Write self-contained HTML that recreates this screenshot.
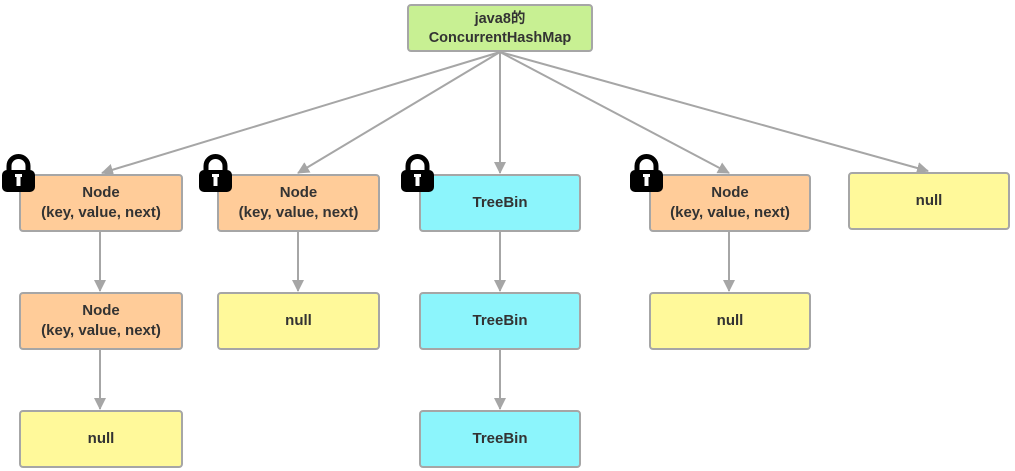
<!DOCTYPE html>
<html><head><meta charset="utf-8"><style>
body{margin:0;width:1015px;height:471px;background:#fff;overflow:hidden;position:relative;font-family:"Liberation Sans","Noto Sans CJK SC",sans-serif}
.b{position:absolute;box-sizing:border-box;border:2px solid #a6a6a6;border-radius:4px;display:flex;align-items:center;justify-content:center;text-align:center;font-size:15px;font-weight:bold;color:#333;line-height:20px}
.o{background:#ffcc99}.y{background:#fff99a}.c{background:#8cf5fc}.g{background:#c8f093}
.t{position:absolute;left:407px;width:186px;text-align:center;font-size:14.5px;font-weight:bold;color:#333;line-height:16px;height:16px}
svg{position:absolute;left:0;top:0}
</style></head><body>
<svg width="1015" height="471">
<defs><marker id="a" markerWidth="12" markerHeight="12" refX="11" refY="6" orient="auto" markerUnits="userSpaceOnUse"><path d="M0,0L12,6L0,12z" fill="#a6a6a6"/></marker>
<g id="lk"><path d="M8,15V10a9.5,9.5 0 0 1 19,0v5" fill="none" stroke="#000" stroke-width="5"/><rect x="1" y="14" width="33" height="22" rx="5" fill="#000"/><rect x="15.5" y="19" width="4" height="11" fill="#fff"/><rect x="14" y="18" width="7" height="3" fill="#fff"/></g></defs>
<g stroke="#a6a6a6" stroke-width="2" fill="none" marker-end="url(#a)">
<line x1="500" y1="52" x2="102" y2="173"/>
<line x1="500" y1="52" x2="298" y2="173"/>
<line x1="500" y1="52" x2="500" y2="173"/>
<line x1="500" y1="52" x2="729" y2="173"/>
<line x1="500" y1="52" x2="928" y2="171"/>
<line x1="100" y1="232" x2="100" y2="291"/>
<line x1="100" y1="350" x2="100" y2="409"/>
<line x1="298" y1="232" x2="298" y2="291"/>
<line x1="500" y1="232" x2="500" y2="291"/>
<line x1="500" y1="350" x2="500" y2="409"/>
<line x1="729" y1="232" x2="729" y2="291"/>
</g>
</svg>
<div class="b g" style="left:407px;top:4px;width:186px;height:48px"></div>
<div class="t" style="top:11px">java8的</div>
<div class="t" style="top:30px">ConcurrentHashMap</div>
<div class="b o" style="left:19px;top:174px;width:164px;height:58px">Node<br>(key, value, next)</div>
<div class="b o" style="left:217px;top:174px;width:163px;height:58px">Node<br>(key, value, next)</div>
<div class="b c" style="left:419px;top:174px;width:162px;height:58px">TreeBin</div>
<div class="b o" style="left:649px;top:174px;width:162px;height:58px">Node<br>(key, value, next)</div>
<div class="b y" style="left:848px;top:172px;width:162px;height:58px">null</div>
<div class="b o" style="left:19px;top:292px;width:164px;height:58px">Node<br>(key, value, next)</div>
<div class="b y" style="left:217px;top:292px;width:163px;height:58px">null</div>
<div class="b c" style="left:419px;top:292px;width:162px;height:58px">TreeBin</div>
<div class="b y" style="left:649px;top:292px;width:162px;height:58px">null</div>
<div class="b y" style="left:19px;top:410px;width:164px;height:58px">null</div>
<div class="b c" style="left:419px;top:410px;width:162px;height:58px">TreeBin</div>
<svg width="1015" height="471"><use href="#lk" x="1" y="156"/><use href="#lk" x="198" y="156"/><use href="#lk" x="400" y="156"/><use href="#lk" x="629" y="156"/></svg>
</body></html>
